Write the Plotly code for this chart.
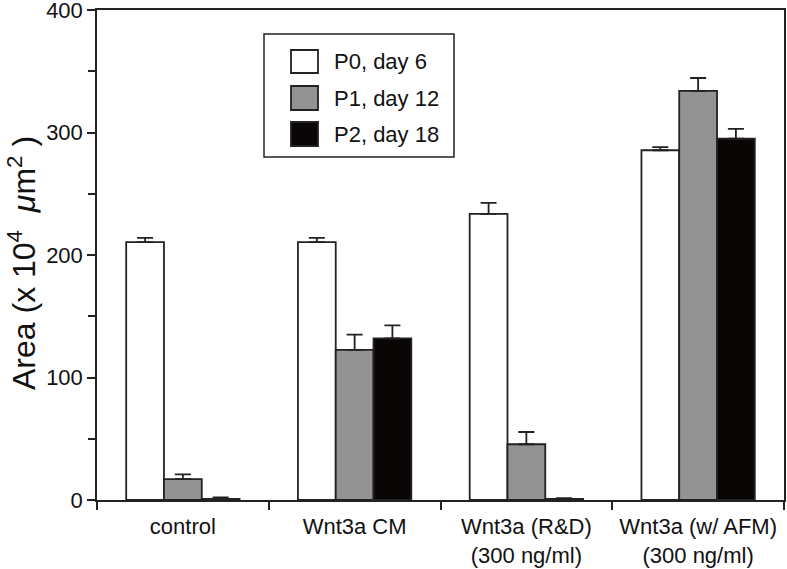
import plotly.graph_objects as go

categories = ["control", "Wnt3a CM", "Wnt3a (R&D)<br>(300 ng/ml)", "Wnt3a (w/ AFM)<br>(300 ng/ml)"]
series_names = ["P0, day 6", "P1, day 12", "P2, day 18"]
p0_values = [210.5, 210.5, 233.5, 285.5]
p1_values = [17, 122.5, 45.5, 334]
p2_values = [0.8, 132, 1.0, 295]
p0_errors = [3.5, 3.5, 9, 2.5]
p1_errors = [4, 12.5, 10, 10.5]
p2_errors = [1.4, 10.5, 0.5, 8]
y_tick_values = [0, 100, 200, 300, 400]
y_title = "Area (x 10<sup>4</sup>  <i>μ</i>m<sup>2</sup> )"

colors = ["#ffffff", "#939393", "#0a0606"]
outline = "#222222"
FONT = "Liberation Sans, Arial, Helvetica, sans-serif"

W, H = 787, 569
L, R, T, B = 97, 3, 10, 69
PW, PH = W - L - R, H - T - B

def px_x(x):
    return (x - L) / PW

def px_y(y):
    return (H - B - y) / PH

fig = go.Figure()
for name, vals, errs, col in zip(series_names, [p0_values, p1_values, p2_values],
                                  [p0_errors, p1_errors, p2_errors], colors):
    fig.add_trace(go.Bar(
        x=categories, y=vals, name=name,
        marker=dict(color=col, line=dict(color=outline, width=1.8)),
        error_y=dict(type="data", array=errs, arrayminus=[0] * len(errs), symmetric=False,
                     color=outline, thickness=1.8, width=8),
        showlegend=False,
    ))

# custom legend (box, swatches, labels)
shapes = [dict(type="rect", xref="paper", yref="paper", opacity=1,
               x0=px_x(264), x1=px_x(454), y0=px_y(157), y1=px_y(34),
               line=dict(color=outline, width=1.5), fillcolor="white", layer="above")]
annotations = []
rows = [(50, 73), (86, 110), (122, 146)]
for (top, bot), col, name in zip(rows, colors, series_names):
    shapes.append(dict(type="rect", xref="paper", yref="paper", opacity=1,
                       x0=px_x(291), x1=px_x(318), y0=px_y(bot), y1=px_y(top),
                       line=dict(color=outline, width=1.8), fillcolor=col, layer="above"))
    annotations.append(dict(xref="paper", yref="paper", x=px_x(332), y=px_y((top + bot) / 2),
                            text=name, showarrow=False, xanchor="left", yanchor="middle",
                            font=dict(family=FONT, size=22, color="#111")))

# y-axis title as rotated annotation
annotations.append(dict(xref="paper", yref="paper", x=px_x(22), y=px_y(263),
                        text=y_title, textangle=-90, showarrow=False,
                        xanchor="center", yanchor="middle",
                        font=dict(family=FONT, size=32, color="#111")))

fig.update_layout(
    template="simple_white",
    width=W, height=H,
    margin=dict(l=L, r=R, t=T, b=B, autoexpand=False),
    paper_bgcolor="white", plot_bgcolor="white",
    barmode="group", bargap=0.34, bargroupgap=0,
    shapes=shapes, annotations=annotations,
    font=dict(family=FONT, size=22, color="#111"),
)
fig.update_xaxes(
    type="category", showline=True, linecolor=outline, linewidth=1.5, mirror=True,
    ticks="outside", tickson="boundaries", ticklen=8, tickwidth=1.5, tickcolor=outline,
    showgrid=False, showdividers=False, ticklabelstandoff=6,
    tickfont=dict(family=FONT, size=22, color="#111"),
)
fig.update_yaxes(
    range=[0, 400], showline=True, linecolor=outline, linewidth=1.5, mirror=True,
    tickvals=y_tick_values, ticks="outside", ticklen=8, tickwidth=1.5, tickcolor=outline,
    minor=dict(dtick=50, ticks="outside", ticklen=7, tickwidth=1.5, tickcolor=outline, showgrid=False),
    showgrid=False, zeroline=False, ticklabeloverflow="allow",
    tickfont=dict(family=FONT, size=22, color="#111"),
)

fig.write_html("out.html", config={"displayModeBar": False},
               post_script="document.body.style.margin='0';")
